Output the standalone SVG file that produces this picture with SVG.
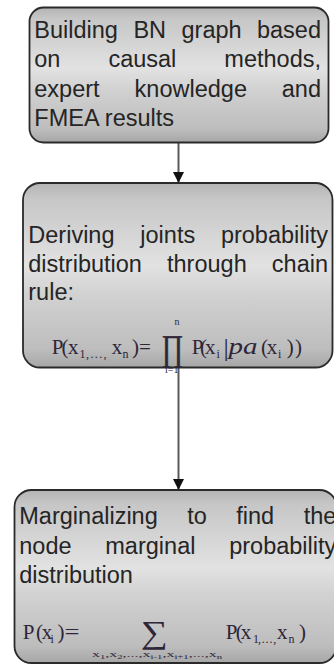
<svg xmlns="http://www.w3.org/2000/svg" width="334" height="666" viewBox="0 0 334 666">
<defs>
<linearGradient id="g" x1="0" y1="0" x2="0" y2="1">
<stop offset="0" stop-color="#b4b4b4"/>
<stop offset="0.08" stop-color="#c6c6c6"/>
<stop offset="0.45" stop-color="#e2e2e2"/>
<stop offset="0.6" stop-color="#d2d2d2"/>
<stop offset="0.9" stop-color="#bdbdbd"/>
<stop offset="1" stop-color="#a6a6a6"/>
</linearGradient>
<marker id="ah" markerWidth="12" markerHeight="12" refX="11" refY="6" orient="auto" markerUnits="userSpaceOnUse">
<path d="M0,0.5 L11,6 L0,11.5 Z" fill="#111"/>
</marker>
</defs>
<style>
.box{fill:url(#g);stroke:#2a2a2a;stroke-width:1.8}
.t{font-family:"Liberation Sans",Arial,sans-serif;font-size:23.5px;fill:#252525}
.e{text-anchor:end}
.f{font-family:"Liberation Serif","Times New Roman",serif;font-size:21px;fill:#2e2638}
.s{font-size:12px}
.ss{font-size:10px}
.c{stroke:#5a5a5a;stroke-width:2;fill:none}
</style>

<g id="connectors">
<line class="c" x1="178.5" y1="143" x2="178.5" y2="183" marker-end="url(#ah)"/>
<line class="c" x1="178.5" y1="368" x2="178.5" y2="490" marker-end="url(#ah)"/>
</g>

<g id="node1">
<rect class="box" x="29.5" y="7.5" width="299" height="135" rx="14"/>
<text class="t" x="34.3" y="37.5">Building</text>
<text class="t" x="133.4" y="37.5">BN</text>
<text class="t" x="181.5" y="37.5">graph</text>
<text class="t e" x="321" y="37.5">based</text>
<text class="t" x="34.3" y="67">on</text>
<text class="t" x="108.4" y="67">causal</text>
<text class="t e" x="321" y="67">methods,</text>
<text class="t" x="34.3" y="96.5">expert</text>
<text class="t" x="134.6" y="96.5">knowledge</text>
<text class="t e" x="321" y="96.5">and</text>
<text class="t" x="34.3" y="126">FMEA results</text>
</g>

<g id="node2">
<rect class="box" x="23" y="183" width="309.5" height="184.5" rx="17"/>
<text class="t" x="28.3" y="243">Deriving</text>
<text class="t" x="140.3" y="243">joints</text>
<text class="t e" x="328" y="243">probability</text>
<text class="t" x="28.3" y="271.5">distribution</text>
<text class="t" x="167" y="271.5">through</text>
<text class="t e" x="328" y="271.5">chain</text>
<text class="t" x="28.3" y="300">rule:</text>
<text class="f"><tspan x="51.7" y="354">P</tspan><tspan x="61.5" y="354">(</tspan><tspan x="68" y="354">x</tspan><tspan class="s" x="79.5" y="358">1</tspan><tspan class="s" x="86" y="358" letter-spacing="1.4">,...,</tspan><tspan x="111.7" y="354">x</tspan><tspan class="s" x="122.5" y="358">n</tspan><tspan x="132" y="354">)=</tspan></text>
<text class="f" x="161.5" y="360" style="font-size:36px;stroke:#2e2638;stroke-width:0.6" textLength="22" lengthAdjust="spacingAndGlyphs">∏</text>
<text class="f ss" x="174.5" y="325">n</text>
<text class="f ss" x="165" y="373">i=1</text>
<text class="f"><tspan x="191.7" y="354">P</tspan><tspan x="200" y="354">(</tspan><tspan x="205" y="354">x</tspan><tspan class="s" x="216.5" y="358">i</tspan><tspan x="223.5" y="356" style="font-size:26px">|</tspan></text>
<text class="f" x="228.5" y="354" style="font-style:italic;font-size:23px" textLength="29" lengthAdjust="spacingAndGlyphs">pa</text>
<text class="f"><tspan x="261" y="354">(</tspan><tspan x="266.7" y="354">x</tspan><tspan class="s" x="278" y="358">i</tspan><tspan x="286.7" y="354">)</tspan><tspan x="295" y="354">)</tspan></text>
</g>

<g id="node3">
<rect class="box" x="14.5" y="490" width="322" height="173" rx="17"/>
<text class="t" x="19.3" y="524">Marginalizing</text>
<text class="t" x="187.2" y="524">to</text>
<text class="t" x="236.3" y="524">find</text>
<text class="t" x="303.7" y="524">the</text>
<text class="t" x="19.3" y="553.5">node</text>
<text class="t" x="105.3" y="553.5">marginal</text>
<text class="t e" x="336.3" y="553.5">probability</text>
<text class="t" x="19.3" y="583">distribution</text>
<text class="f"><tspan x="22.7" y="639">P</tspan><tspan x="36" y="639">(</tspan><tspan x="41.7" y="639">x</tspan><tspan class="s" x="50.5" y="643">i</tspan><tspan x="57.5" y="639">)</tspan></text>
<text class="f" x="64.5" y="639" textLength="15" lengthAdjust="spacingAndGlyphs">=</text>
<text class="f" x="141" y="643" style="font-size:32px" textLength="27" lengthAdjust="spacingAndGlyphs">∑</text>
<text class="f" x="92" y="657" style="font-size:9px" textLength="130" lengthAdjust="spacingAndGlyphs">x<tspan dy="2" font-size="6">1</tspan><tspan dy="-2">,x</tspan><tspan dy="2" font-size="6">2</tspan><tspan dy="-2">,...,x</tspan><tspan dy="2" font-size="6">i-1</tspan><tspan dy="-2">,x</tspan><tspan dy="2" font-size="6">i+1</tspan><tspan dy="-2">,...,x</tspan><tspan dy="2" font-size="6">n</tspan></text>
<text class="f"><tspan x="225.7" y="639">P</tspan><tspan x="235.7" y="639">(</tspan><tspan x="240.7" y="639">x</tspan><tspan class="s" x="253" y="643">1</tspan><tspan class="s" x="258" y="643" letter-spacing="0.8">,...,</tspan><tspan x="277" y="639">x</tspan><tspan class="s" x="288.5" y="643">n</tspan><tspan x="299" y="639">)</tspan></text>
</g>
</svg>
